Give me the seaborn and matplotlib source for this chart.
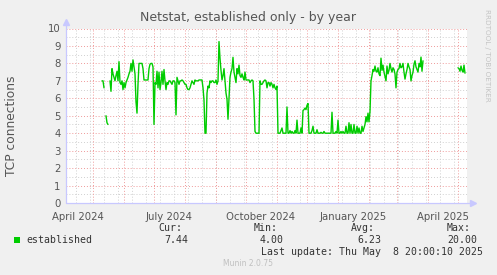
import numpy as np
import pandas as pd
import matplotlib
matplotlib.use("Agg")
import matplotlib.pyplot as plt
import matplotlib.transforms as mtransforms
import seaborn as sns

nan = np.nan
# ---------------- data ----------------
title = "Netstat, established only - by year"
ylabel = "TCP connections"
series_name = "established"
first_date = "2024-05-10"          # first daily sample
established = [
    7.0, 7.0, 6.6, nan, 5.0, 4.6, 4.5, nan, 7.0, 6.4,
    7.7, 7.4, 7.2, 7.0, 7.3, 7.55, 7.0, 8.1, 6.9, 6.8,
    7.0, 6.5, 6.9, 6.6, 6.9, 7.05, 7.2, 7.4, 7.55, 8.0,
    7.55, 8.2, 7.8, 7.4, 5.8, 5.15, 6.8, 8.0, 8.0, 8.0,
    8.0, 7.7, 7.05, 7.05, 7.05, 7.05, 7.05, 7.7, 7.95, 8.0,
    8.0, 7.8, 4.5, 6.9, 6.8, 7.55, 6.6, 7.5, 6.5, 6.9,
    7.55, 6.8, 7.65, 7.0, 6.5, 6.9, 6.8, 7.0, 7.0, 6.9,
    6.8, 7.0, 7.0, 6.9, 5.05, 7.2, 7.0, 6.8, 7.0, 7.0,
    7.05, 7.0, 6.9, 6.8, 6.8, 6.6, 6.5, 6.5, 6.6, 6.8,
    7.0, 6.9, 6.8, 7.05, 7.0, 7.0, 7.0, 7.05, 7.05, 7.05,
    7.05, 6.6, 5.9, 4.0, 4.0, 6.3, 6.7, 6.6, 7.0, 6.9,
    7.0, 7.0, 6.9, 6.9, 7.05, 6.8, 7.0, 9.25, 8.3, 7.6,
    7.05, 7.3, 7.7, 7.0, 6.3, 5.95, 4.8, 5.95, 7.2, 7.5,
    7.7, 8.35, 7.5, 7.2, 6.9, 7.7, 7.4, 7.9, 7.3, 7.2,
    7.4, 7.2, 7.05, 7.5, 7.05, 7.05, 7.05, 7.05, 6.9, 7.0,
    7.05, 7.0, 5.95, 4.1, 4.0, 4.0, 4.0, 4.0, 7.0, 6.8,
    6.8, 6.9, 7.0, 7.05, 7.0, 6.6, 6.9, 6.9, 6.7, 6.9,
    6.8, 6.6, 6.8, 6.6, 6.5, 6.7, 4.0, 4.0, 4.0, 4.15,
    4.3, 4.0, 4.0, 4.0, 4.0, 5.5, 4.0, 4.0, 4.15, 4.0,
    4.1, 4.0, 4.0, 4.15, 4.0, 4.75, 4.0, 4.0, 4.0, 4.3,
    4.0, 5.3, 5.35, 5.44, 5.35, 5.6, 5.7, 4.0, 4.0, 4.0,
    4.15, 4.4, 4.0, 4.0, 4.0, 4.2, 4.0, 4.0, 4.0, 4.05,
    4.0, 4.0, 4.1, 4.0, 4.0, 4.0, 4.0, 4.0, 4.0, 4.0,
    5.2, 4.0, 4.0, 4.0, 4.1, 4.0, 4.75, 4.0, 4.0, 4.1,
    4.0, 4.1, 4.0, 4.0, 4.4, 4.0, 4.0, 4.6, 4.0, 4.5,
    4.0, 4.0, 4.5, 4.0, 4.0, 4.4, 4.0, 4.3, 4.0, 4.0,
    4.4, 4.1, 4.3, 4.5, 4.95, 4.65, 5.15, 4.65, 5.25, 7.0,
    7.3, 7.65, 7.55, 7.85, 7.55, 7.5, 7.75, 7.4, 7.3, 8.3,
    7.6, 7.9, 7.5, 7.25, 7.0, 7.85, 7.4, 7.6, 8.0, 7.7,
    7.5, 7.75, 7.65, 7.4, 6.6, 7.5, 7.65, 7.7, 8.0, 7.75,
    7.8, 8.0, 7.5, 7.1, 7.4, 7.65, 8.0, 7.8, 7.65, 7.0,
    7.3, 7.5, 7.95, 8.15, 7.8, 7.65, 7.5, 8.0, 7.8, 8.36,
    7.55, 8.15,
] + [nan] * 34 + [
    7.75, 7.7, 7.55, 7.85, 7.6, 7.5, 7.9, 7.44,
]
month_labels = ["April 2024", "July 2024", "October 2024", "January 2025", "April 2025"]
month_label_dates = ["2024-04-16", "2024-07-16", "2024-10-16", "2025-01-16", "2025-04-16"]
yticks = list(range(0, 11))
stat_names = ["Cur:", "Min:", "Avg:", "Max:"]
stat_values = ["7.44", "4.00", "6.23", "20.00"]
last_update = "Last update: Thu May  8 20:00:10 2025"
footer = "Munin 2.0.75"
side_text = "RRDTOOL / TOBI OETIKER"

# ---------------- figure ----------------
sns.set_style("white")
plt.rcParams["font.family"] = ["DejaVu Sans"]

W, H = 497, 275
fig = plt.figure(figsize=(W / 100, H / 100), dpi=100)
fig.patch.set_facecolor("#f0f0f0")

px_l, px_r, px_t, px_b = 66, 467, 28.5, 203
ax = fig.add_axes([px_l / W, (H - px_b) / H, (px_r - px_l) / W, (px_b - px_t) / H])
ax.set_facecolor("white")
for s in ax.spines.values():
    s.set_visible(False)

x_start = pd.Timestamp("2024-04-04")
x_end = pd.Timestamp("2025-05-10")

df = pd.DataFrame({
    "date": pd.date_range(first_date, periods=len(established), freq="D"),
    "value": established,
})
df["seg"] = df["value"].isna().cumsum()
df = df.dropna()

# grid
red = "#ef9a9a"
gray = "#d0d0d0"
dot = (0, (1, 2))
for v in np.arange(0.5, 10, 1.0):
    ax.axhline(v, color=gray, lw=0.7, ls=dot, zorder=1)
for v in range(1, 11):
    ax.axhline(v, color=red, lw=0.7, ls=dot, zorder=1)
minor_dates = pd.date_range("2024-04-14", x_end, freq="14D")
major_dates = pd.date_range("2024-05-01", x_end, freq="MS")
for d in minor_dates:
    ax.axvline(d, color=gray, lw=0.7, ls=dot, zorder=1)
for d in major_dates:
    ax.axvline(d, color=red, lw=0.7, ls=dot, zorder=1)

sns.lineplot(data=df, x="date", y="value", units="seg", estimator=None,
             color="#00cc00", lw=1.0, ax=ax, zorder=3, legend=False)

ax.set_xlim(x_start, x_end)
ax.set_ylim(0, 10)
ax.set_xlabel("")
ax.set_ylabel("")

# ticks
ax.set_xticks(major_dates)
ax.set_xticklabels([])
ax.set_xticks(minor_dates, minor=True)
ax.tick_params(axis="x", which="major", length=2.5, color="#e06060", width=0.7, direction="out")
ax.tick_params(axis="x", which="minor", length=2, color="#bbbbbb", width=0.7, direction="out")
ax.set_yticks(yticks)
ax.set_yticklabels([str(t) for t in yticks])
ax.tick_params(axis="y", length=2, color="#e06060", width=0.7, labelsize=7.3,
               labelcolor="#555555", pad=2)

trans = mtransforms.blended_transform_factory(ax.transData, ax.transAxes)
for lab, d in zip(month_labels, month_label_dates):
    ax.text(pd.Timestamp(d), -0.05, lab, transform=trans, ha="center", va="top",
            fontsize=7.3, color="#555555")

# axis lines with arrows
acol = "#c8c8ff"
ax.plot([0, 1.012], [0, 0], transform=ax.transAxes, color=acol, lw=0.9, clip_on=False, zorder=4)
ax.plot([0, 0], [0, 1.03], transform=ax.transAxes, color=acol, lw=0.9, clip_on=False, zorder=4)
ax.plot([1.014], [0], marker=">", ms=4.5, color=acol, transform=ax.transAxes, clip_on=False, zorder=4)
ax.plot([0], [1.035], marker="^", ms=4.5, color=acol, transform=ax.transAxes, clip_on=False, zorder=4)

# texts
def ftext(x, y, s, **kw):
    fig.text(x / W, 1 - y / H, s, **kw)

ftext(248.5, 17, title, ha="center", va="center", fontsize=9.0, color="#555555")
ftext(12, 126, ylabel, ha="center", va="center", rotation=90, fontsize=8.8, color="#555555")
ftext(487, 55, side_text, ha="center", va="center", rotation=270, fontsize=5.2, color="#c4c4c4")

mono = "DejaVu Sans Mono"
fig.patches.append(plt.Rectangle((14 / W, 1 - 243 / H), 6 / W, 6 / H, transform=fig.transFigure,
                                 facecolor="#00cc00", edgecolor="none"))
ftext(26, 240, series_name, ha="left", va="center", fontsize=7.1, family=mono, color="#333333")
name_x = [158, 254, 351, 447]
val_right = [188, 284, 381, 477]
for nm, v, nx, vr in zip(stat_names, stat_values, name_x, val_right):
    ftext(nx, 228, nm, ha="left", va="center", fontsize=7.1, family=mono, color="#333333")
    ftext(vr, 240, v, ha="right", va="center", fontsize=7.1, family=mono, color="#333333")
ftext(483, 252, last_update, ha="right", va="center", fontsize=7.1, family=mono, color="#333333")
ftext(248, 264, footer, ha="center", va="center", fontsize=5.5, color="#c0c0c0")

fig.savefig("out.png", dpi=100, facecolor=fig.get_facecolor())
